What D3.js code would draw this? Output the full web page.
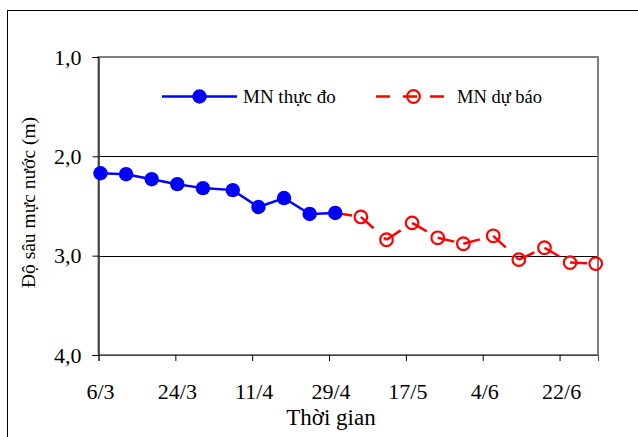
<!DOCTYPE html>
<html><head><meta charset="utf-8">
<script src="https://cdn.jsdelivr.net/npm/d3@7"></script>
<style>
html,body{margin:0;padding:0;background:#fff;}
svg{display:block;}
svg text{font-family:"Times New Roman","Liberation Serif","DejaVu Serif",serif !important;fill:#000;}
</style></head>
<body>
<svg id="chart" width="638" height="437"></svg>
<script>
// ---- data ----
const measuredDates = ["2010-03-06","2010-03-12","2010-03-18","2010-03-24","2010-03-30","2010-04-06","2010-04-12","2010-04-18","2010-04-24","2010-04-30"];
const measuredValues = [2.17, 2.18, 2.23, 2.28, 2.32, 2.34, 2.51, 2.42, 2.58, 2.57];
const forecastDates = ["2010-05-06","2010-05-12","2010-05-18","2010-05-24","2010-05-30","2010-06-06","2010-06-12","2010-06-18","2010-06-24","2010-06-30"];
const forecastValues = [2.61, 2.84, 2.67, 2.82, 2.88, 2.80, 3.04, 2.92, 3.07, 3.08];
const xTickDates = ["2010-03-06","2010-03-24","2010-04-11","2010-04-29","2010-05-17","2010-06-04","2010-06-22"];
const xDomain = ["2010-03-06","2010-07-01"];
const yTicks = [1, 2, 3, 4];
const seriesNames = ["MN thực đo", "MN dự báo"];
const xTitle = "Thời gian";
const yTitle = "Độ sâu mực nước (m)";

const FONT = '"Times New Roman","Liberation Serif","DejaVu Serif",serif';
const parse = d3.utcParse("%Y-%m-%d");
const parseObs = s => d3.utcHour.offset(parse(s), 11); // observations recorded mid-day
const svg = d3.select("#chart");
const L = 98.5, R = 598, T = 57, B = 355;

// outer frame
svg.append("rect").attr("x",7.5).attr("y",10.5).attr("width",700).attr("height",500)
  .attr("fill","none").attr("stroke","#000").attr("stroke-width",1);

const x = d3.scaleUtc().domain(xDomain.map(parse)).range([L, R]);
const y = d3.scaleLinear().domain([1, 4]).range([T, B]);

// gridlines
svg.append("g").selectAll("line").data(yTicks.filter(v => v > 1 && v < 4)).join("line")
  .attr("x1", L).attr("x2", R).attr("y1", d => Math.round(y(d)) + 0.5).attr("y2", d => Math.round(y(d)) + 0.5)
  .attr("stroke", "#000").attr("stroke-width", 1);

// plot area border
svg.append("rect").attr("x", L).attr("y", T).attr("width", R - L).attr("height", B - T)
  .attr("fill", "none").attr("stroke", "#808080").attr("stroke-width", 2);

// y axis
const yAxis = d3.axisLeft(y).tickValues(yTicks).tickSize(6).tickPadding(4)
  .tickFormat(d => d3.format(".1f")(d).replace(".", ","));
const gy = svg.append("g").attr("transform", `translate(${L},0)`).call(yAxis).attr("font-family", FONT);
gy.select(".domain").attr("stroke", "#000").attr("stroke-width", 1);
gy.selectAll(".tick line").attr("stroke", "#000");
gy.selectAll(".tick text").attr("font-size", 22).attr("dy", "0.32em").attr("x", -17);

// x axis
const xAxis = d3.axisBottom(x).tickValues(xTickDates.map(parse)).tickSize(6).tickPadding(0)
  .tickFormat(d3.utcFormat("%-d/%-m"));
const gx = svg.append("g").attr("transform", `translate(0,${B})`).call(xAxis).attr("font-family", FONT);
gx.select(".domain").attr("stroke", "#444").attr("stroke-width", 1);
gx.selectAll(".tick line").attr("stroke", "#000");
gx.selectAll(".tick text").attr("font-size", 22).attr("dy", null).attr("y", 44).attr("dx", 1.5);

// axis titles
svg.append("text").attr("x", 331).attr("y", 425).attr("text-anchor", "middle").attr("font-size", 23).attr("font-family", FONT).text(xTitle);
svg.append("text").attr("transform", "translate(35,202.5) rotate(-90)").attr("text-anchor", "middle").attr("font-size", 19.5).attr("font-family", FONT).text(yTitle);

const blue = "#0000FF", red = "#FF0000";
const meas = measuredDates.map((d, i) => ({ t: parseObs(d), v: measuredValues[i] }));
const fc = forecastDates.map((d, i) => ({ t: parseObs(d), v: forecastValues[i] }));
const fcPath = [meas[meas.length - 1]].concat(fc);

// forecast line: dash pattern restarts per segment
const segs = d3.pairs(fcPath);
svg.append("g").selectAll("line").data(segs).join("line")
  .attr("x1", d => x(d[0].t)).attr("y1", d => y(d[0].v))
  .attr("x2", d => x(d[1].t)).attr("y2", d => y(d[1].v))
  .attr("stroke", red).attr("stroke-width", 2.5).attr("stroke-dasharray", "17,14");
svg.append("g").selectAll("circle").data(fc).join("circle")
  .attr("cx", d => x(d.t)).attr("cy", d => y(d.v)).attr("r", 6.3)
  .attr("fill", "none").attr("stroke", red).attr("stroke-width", 2.2);

// measured line
const line = d3.line().x(d => x(d.t)).y(d => y(d.v));
svg.append("path").datum(meas).attr("d", line).attr("fill", "none").attr("stroke", blue).attr("stroke-width", 2.5);
svg.append("g").selectAll("circle").data(meas).join("circle")
  .attr("cx", d => x(d.t)).attr("cy", d => y(d.v)).attr("r", 7.2).attr("fill", blue);

// legend
const lg = svg.append("g").attr("font-family", FONT);
lg.append("line").attr("x1", 162).attr("x2", 237).attr("y1", 96.5).attr("y2", 96.5).attr("stroke", blue).attr("stroke-width", 2.5);
lg.append("circle").attr("cx", 199.5).attr("cy", 96.5).attr("r", 7.2).attr("fill", blue);
lg.append("text").attr("x", 243).attr("y", 102.5).attr("font-size", 19).text(seriesNames[0]);
lg.append("line").attr("x1", 376).attr("x2", 447).attr("y1", 96.5).attr("y2", 96.5).attr("stroke", red).attr("stroke-width", 2.5).attr("stroke-dasharray", "14,13");
lg.append("circle").attr("cx", 413.5).attr("cy", 96.5).attr("r", 6.3).attr("fill", "none").attr("stroke", red).attr("stroke-width", 2.2);
lg.append("text").attr("x", 457).attr("y", 102.5).attr("font-size", 18.5).text(seriesNames[1]);
</script>
</body></html>
